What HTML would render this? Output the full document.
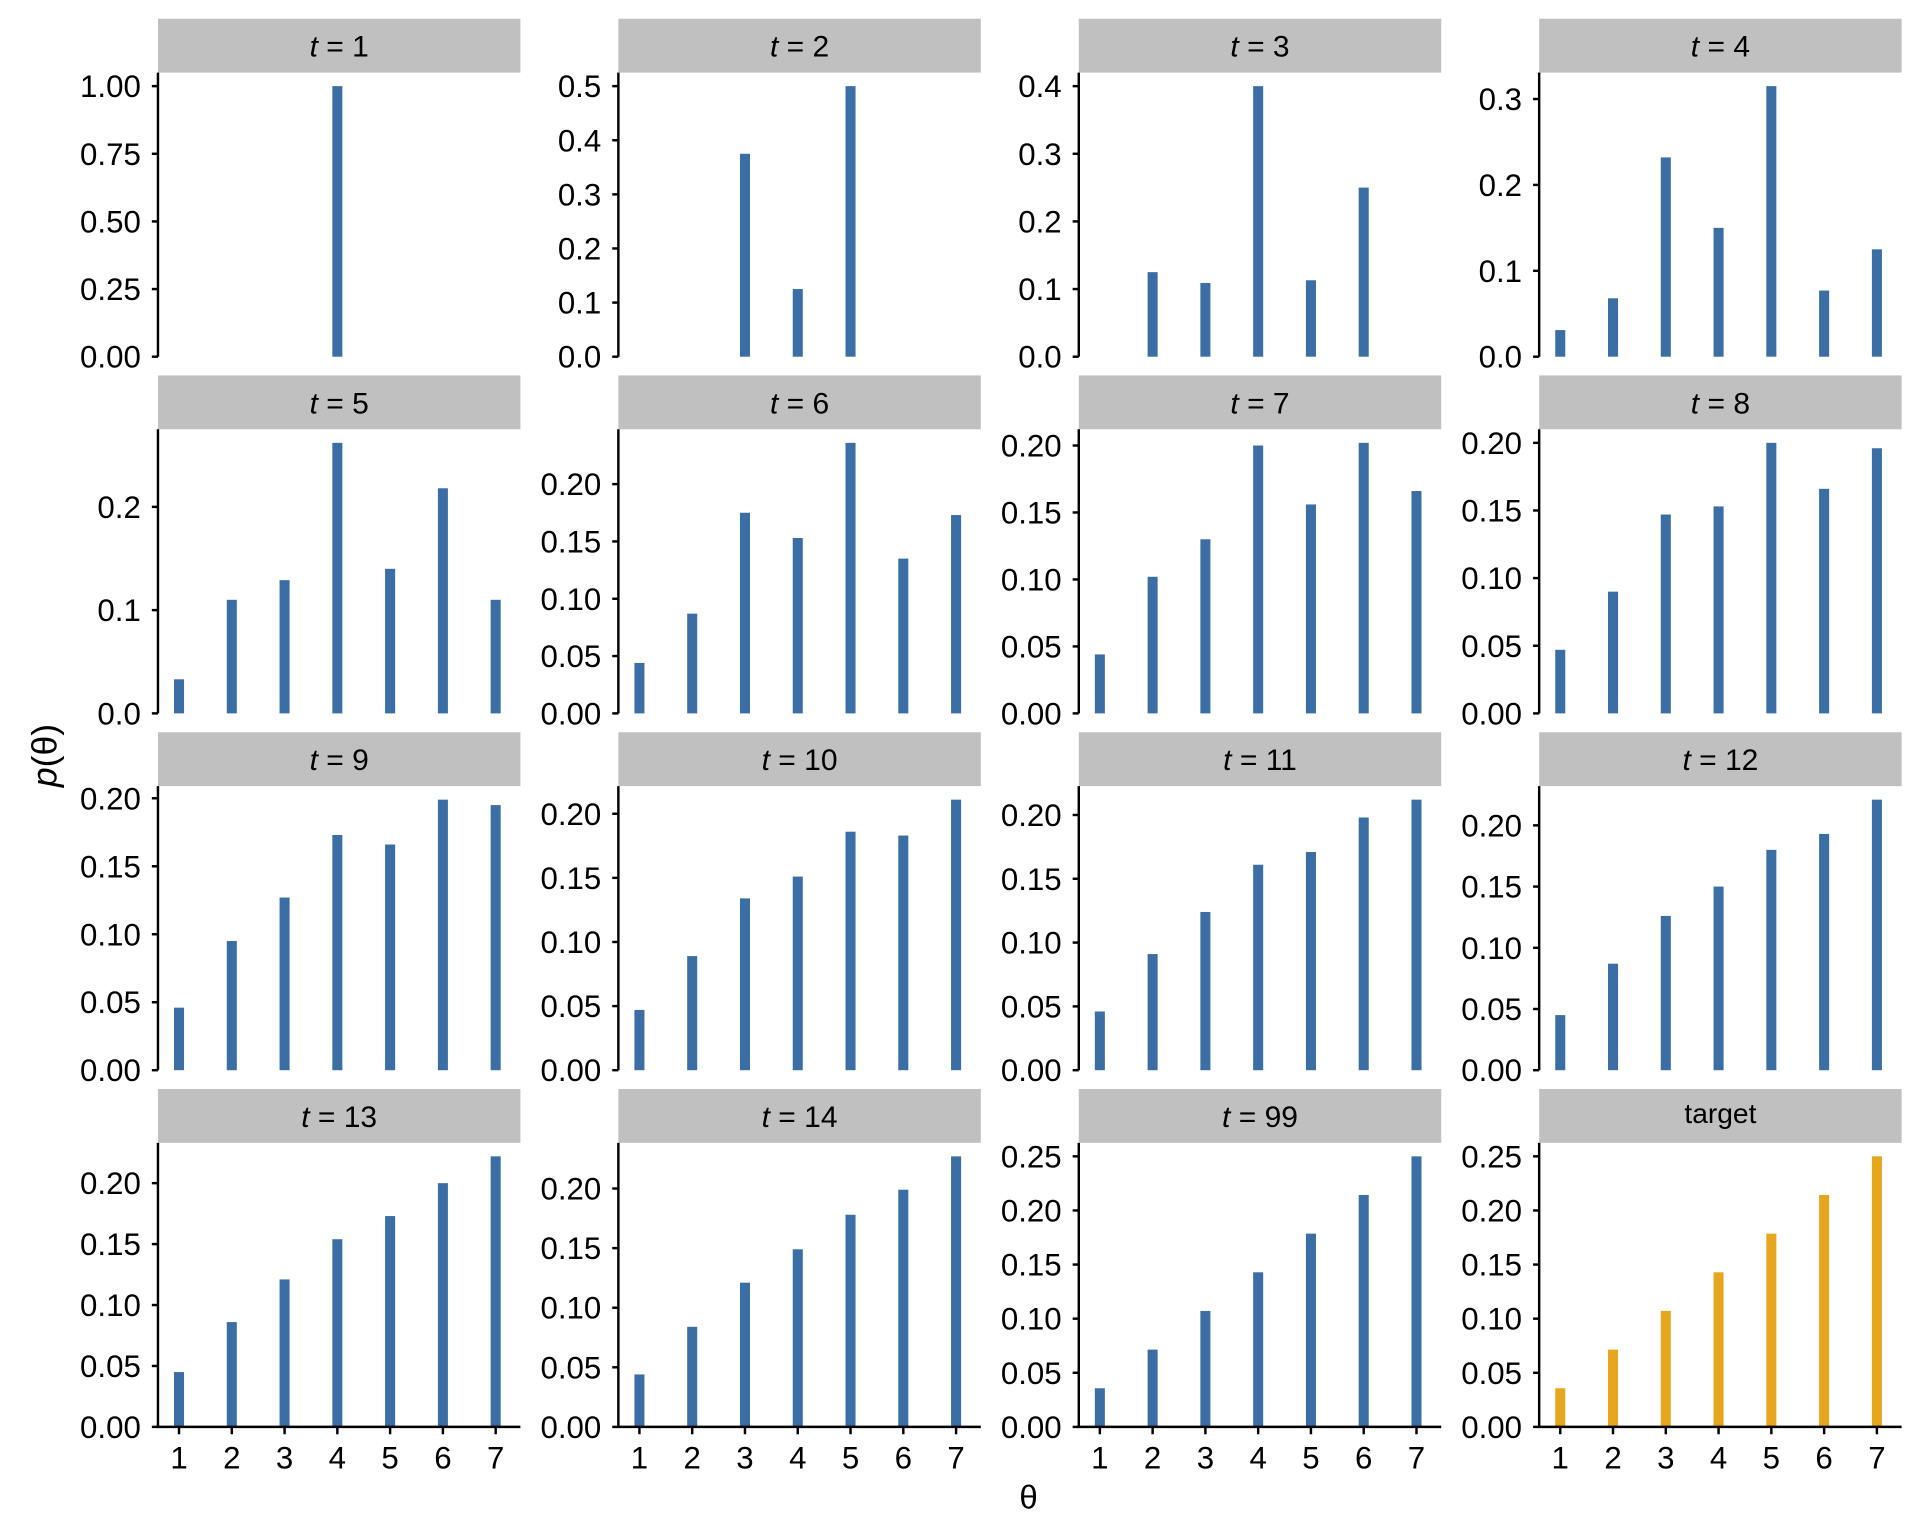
<!DOCTYPE html>
<html><head><meta charset="utf-8"><style>
html,body{margin:0;padding:0;background:#fff;}
svg{display:block;}
text{font-family:"Liberation Sans",Arial,sans-serif;fill:#000;}
</style></head><body>
<svg id="s" width="1920" height="1536" viewBox="0 0 1568 1254.4" xmlns="http://www.w3.org/2000/svg"></svg>
<script>
const D=[
{t:"1",v:[0,0,0,1,0,0,0],ticks:[0,.25,.5,.75,1],dec:2},
{t:"2",v:[0,0,.375,.125,.5,0,0],ticks:[0,.1,.2,.3,.4,.5],dec:1},
{t:"3",v:[0,.125,.109,.40,.113,.25,0],ticks:[0,.1,.2,.3,.4],dec:1},
{t:"4",v:[.031,.068,.232,.15,.315,.077,.125],ticks:[0,.1,.2,.3],dec:1},
{t:"5",v:[.033,.11,.129,.262,.14,.218,.11],ticks:[0,.1,.2],dec:1},
{t:"6",v:[.044,.087,.175,.153,.236,.135,.173],ticks:[0,.05,.1,.15,.2],dec:2},
{t:"7",v:[.044,.102,.13,.20,.156,.202,.166],ticks:[0,.05,.1,.15,.2],dec:2},
{t:"8",v:[.047,.09,.147,.153,.2,.166,.196],ticks:[0,.05,.1,.15,.2],dec:2},
{t:"9",v:[.046,.095,.127,.173,.166,.199,.195],ticks:[0,.05,.1,.15,.2],dec:2},
{t:"10",v:[.047,.089,.134,.151,.186,.183,.211],ticks:[0,.05,.1,.15,.2],dec:2},
{t:"11",v:[.046,.091,.124,.161,.171,.198,.212],ticks:[0,.05,.1,.15,.2],dec:2},
{t:"12",v:[.045,.087,.126,.15,.18,.193,.221],ticks:[0,.05,.1,.15,.2],dec:2},
{t:"13",v:[.045,.086,.121,.154,.173,.2,.222],ticks:[0,.05,.1,.15,.2],dec:2},
{t:"14",v:[.044,.084,.121,.149,.178,.199,.227],ticks:[0,.05,.1,.15,.2],dec:2},
{t:"99",v:[1,2,3,4,5,6,7].map(i=>i/28),ticks:[0,.05,.1,.15,.2,.25],dec:2},
{t:null,v:[1,2,3,4,5,6,7].map(i=>i/28),ticks:[0,.05,.1,.15,.2,.25],dec:2}
];
let h='';
const cols=[129,505,881,1257], zeros=[291.3,582.6,874,1165.3];
D.forEach((p,k)=>{
 const L=cols[k%4], Z=zeros[Math.floor(k/4)], W=296, H=232;
 const mx=Math.max(...p.v)*1.05;
 const y=v=>Z-v/mx*H;
 h+=`<rect x="${L}" y="${Z-276}" width="${W}" height="44" fill="#c0c0c0"/>`;
 if(p.t) h+=`<text x="${L+W/2}" y="${Z-245}" font-size="24.5" text-anchor="middle"><tspan font-style="italic">t</tspan> = ${p.t}</text>`;
 else h+=`<text x="${L+W/2}" y="${Z-248}" font-size="23" text-anchor="middle">target</text>`;
 const col=p.t?'#3a6ea5':'#e6a61e';
 p.v.forEach((v,i)=>{ if(v>0){const cx=L+17.2+i*43.1; h+=`<rect x="${cx-4.1}" y="${y(v)}" width="8.2" height="${Z-y(v)}" fill="${col}"/>`;}});
 h+=`<line x1="${L}" y1="${Z-H}" x2="${L}" y2="${Z}" stroke="#000" stroke-width="2"/>`;
 p.ticks.forEach(t=>{const yy=y(t);
  h+=`<line x1="${L-5}" y1="${yy}" x2="${L}" y2="${yy}" stroke="#000" stroke-width="2"/>`;
  h+=`<text x="${L-14}" y="${yy+9}" font-size="25.5" text-anchor="end">${t.toFixed(p.dec)}</text>`;});
 if(k>=12){
  h+=`<line x1="${L-1}" y1="${Z}" x2="${L+W}" y2="${Z}" stroke="#000" stroke-width="2"/>`;
  for(let i=0;i<7;i++){const cx=L+17.2+i*43.1;
   h+=`<line x1="${cx}" y1="${Z}" x2="${cx}" y2="${Z+6}" stroke="#000" stroke-width="2"/>`;
   h+=`<text x="${cx}" y="${Z+34}" font-size="25.5" text-anchor="middle">${i+1}</text>`;}
 }
});
h+=`<text x="840" y="1232" font-size="27" text-anchor="middle">θ</text>`;
h+=`<text transform="translate(46,617) rotate(-90)" font-size="29" text-anchor="middle"><tspan font-style="italic">p</tspan>(θ)</text>`;
document.getElementById('s').innerHTML=h;
</script>
</body></html>
